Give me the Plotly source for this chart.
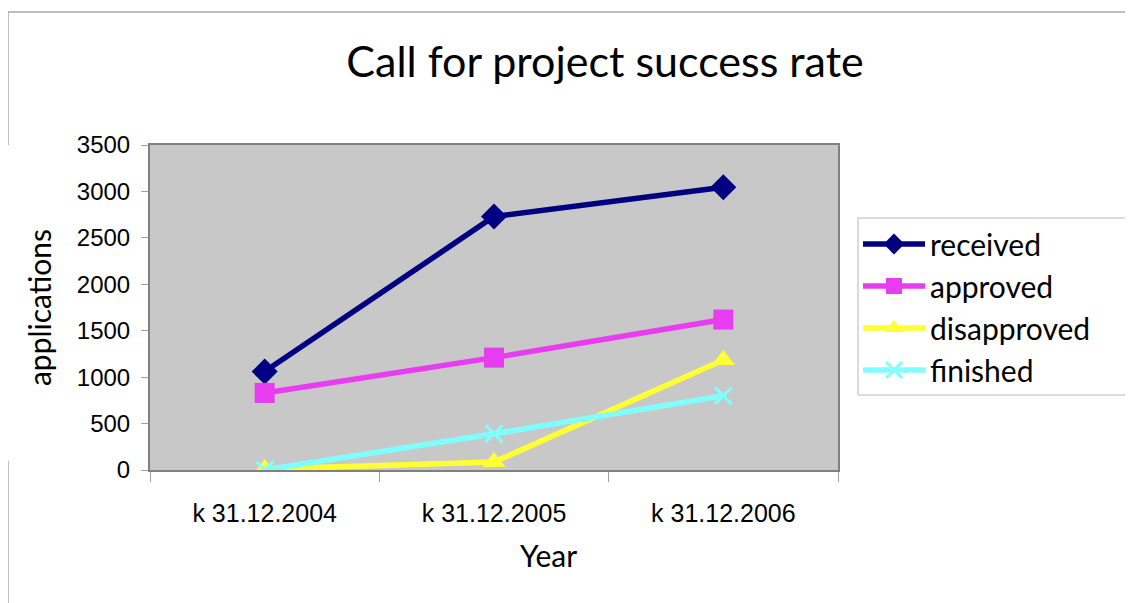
import plotly.graph_objects as go

categories = ["k 31.12.2004", "k 31.12.2005", "k 31.12.2006"]
received = [1060, 2730, 3045]
approved = [830, 1210, 1620]
disapproved = [10, 85, 1185]
finished = [0, 390, 800]

series = [
    ("received", received, "#000080", "diamond", 20),
    ("approved", approved, "#E83CF0", "square", 20),
    ("disapproved", disapproved, "#FFFF33", "triangle-up", 20),
    ("finished", finished, "#80FFFF", "x-thin", 17),
]

fig = go.Figure()
for i, (name, vals, col, sym, sz) in enumerate(series):
    marker = dict(symbol=sym, size=sz, color=col)
    if sym == "x-thin":
        marker["line"] = dict(color=col, width=3)
    fig.add_trace(go.Scatter(
        x=categories, y=vals, name=name, mode="lines+markers",
        line=dict(color=col, width=5.5), marker=marker,
        legendgroup=name,
    ))

OFF = 8  # page body margin
W, H = 1133, 603
L, T = 150 - OFF, 145 - OFF
R = W - (838 - OFF)
B = H - (470 - OFF)
pw, ph = W - L - R, H - T - B

def px_x(p):
    return (p - OFF - L) / pw

def px_y(p):
    return (T + ph - (p - OFF)) / ph

shapes = [
    dict(type="line", xref="paper", yref="paper", x0=px_x(8), x1=px_x(1145), y0=px_y(12), y1=px_y(12),
         line=dict(color="#A8A8A8", width=1.5)),
    dict(type="line", xref="paper", yref="paper", x0=px_x(8), x1=px_x(8), y0=px_y(12), y1=px_y(145),
         line=dict(color="#A8A8A8", width=1.5)),
    dict(type="line", xref="paper", yref="paper", x0=px_x(8), x1=px_x(8), y0=px_y(461), y1=px_y(615),
         line=dict(color="#A8A8A8", width=1.5)),
    dict(type="rect", xref="paper", yref="paper", x0=px_x(858), x1=px_x(1160), y0=px_y(218), y1=px_y(395),
         line=dict(color="#B8B8B8", width=1), fillcolor="white", layer="below"),
]

annotations = [
    dict(text="Year", xref="paper", yref="paper", x=px_x(548), y=px_y(555), xanchor="center",
         yanchor="middle", showarrow=False, font=dict(family="Lato", size=30, color="black")),
]

fig.update_layout(
    width=W, height=H,
    margin=dict(l=L, r=R, t=T, b=B),
    paper_bgcolor="white",
    plot_bgcolor="#C8C8C8",
    title=dict(text="Call for project success rate", x=px_x(605), xref="paper", xanchor="center",
               y=1 - (62 - OFF) / H, yanchor="middle",
               font=dict(family="Lato", size=43, color="black")),
    font=dict(family="Liberation Sans", color="black"),
    showlegend=True,
    legend=dict(x=px_x(858), y=px_y(218), xanchor="left", yanchor="top",
                bgcolor="rgba(0,0,0,0)", borderwidth=0,
                font=dict(family="Lato", size=30, color="black"),
                tracegroupgap=0, itemwidth=62),
    shapes=shapes,
    annotations=annotations,
    xaxis=dict(
        type="category", tickson="boundaries", ticks="outside", ticklen=10, tickcolor="#A0A0A0",
        showgrid=False, showline=True, linecolor="#808080", linewidth=2, mirror=True,
        tickfont=dict(family="Liberation Sans", size=25, color="black"),
        ticklabelstandoff=20,
        range=[-0.5, 2.5],
    ),
    yaxis=dict(
        range=[0, 3500], dtick=500, ticks="outside", ticklen=7, tickcolor="#A0A0A0",
        showgrid=False, zeroline=False, showline=True, linecolor="#808080", linewidth=2, mirror=True,
        tickfont=dict(family="Liberation Sans", size=24, color="black"),
        ticklabelstandoff=6,
        title=dict(text="applications", font=dict(family="Lato", size=30, color="black"), standoff=16),
    ),
)

fig.write_html("out.html")
